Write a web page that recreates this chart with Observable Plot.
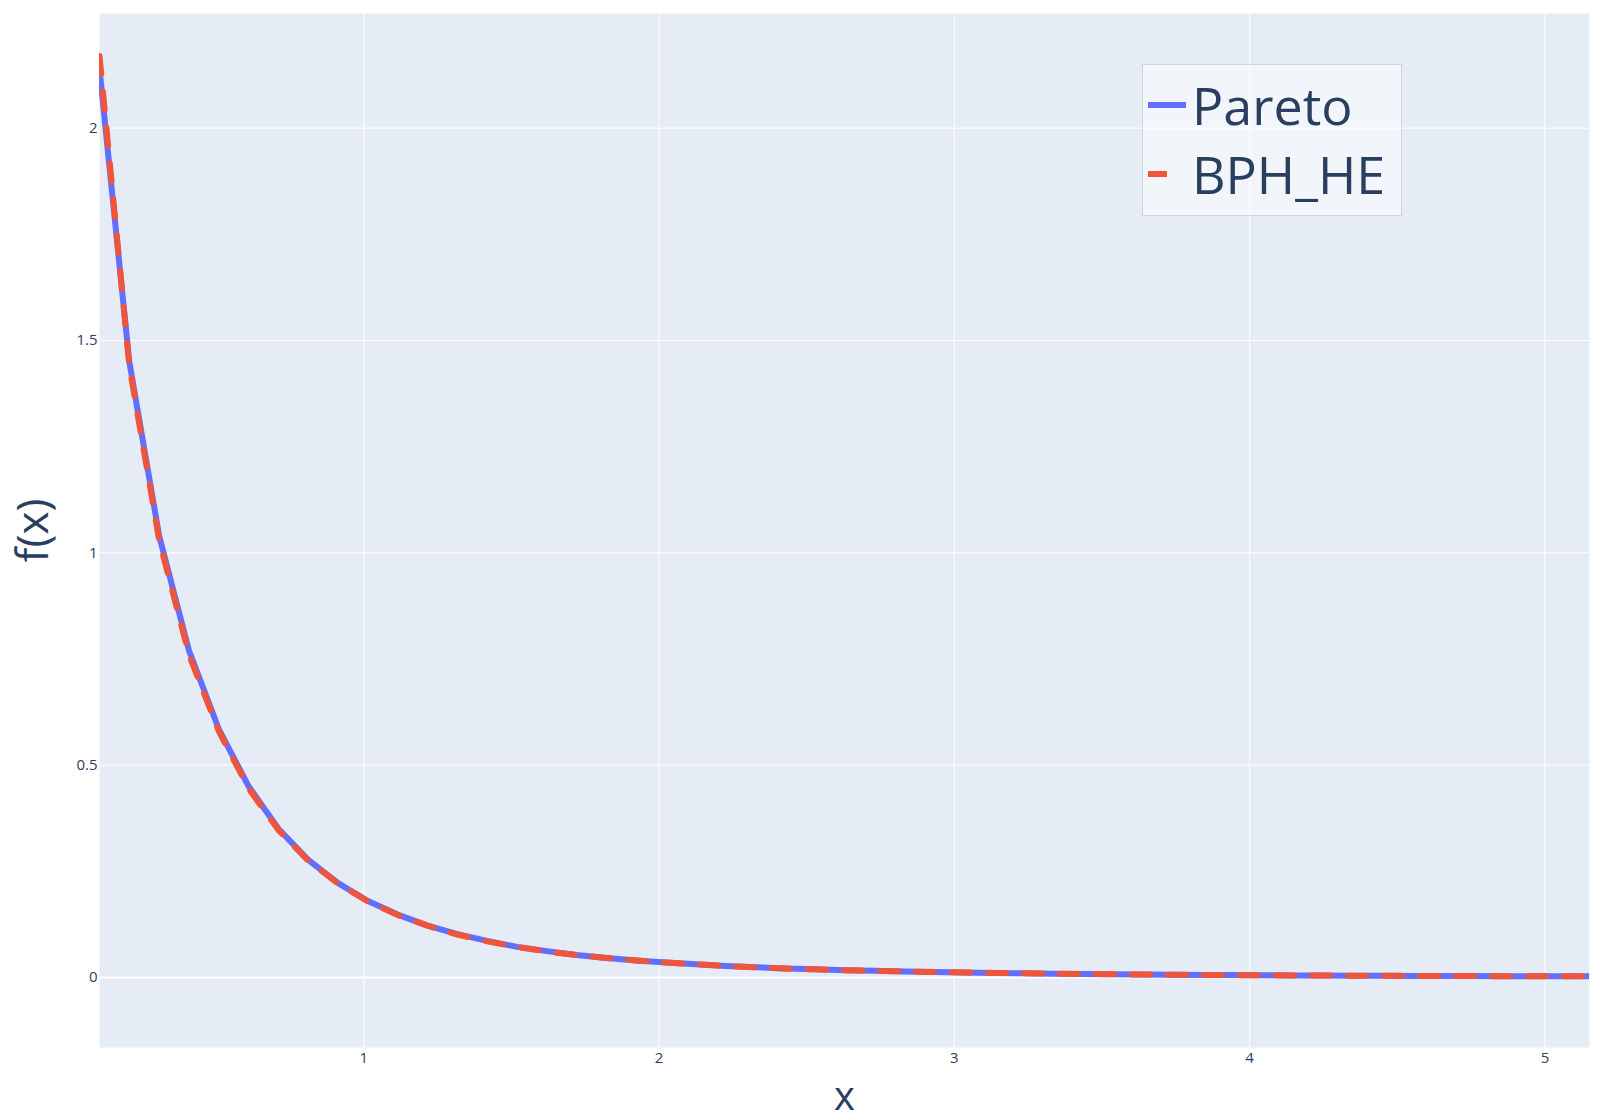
<!DOCTYPE html>
<html><head><meta charset="utf-8">
<script src="https://cdn.jsdelivr.net/npm/d3@7"></script>
<script src="https://cdn.jsdelivr.net/npm/@observablehq/plot@0.6"></script>
<style>
body{margin:0;background:#fff;font-family:"Open Sans",sans-serif;}
#wrap{position:relative;width:1612px;height:1120px;}
#legend{position:absolute;left:1142px;top:64px;}
</style></head><body>
<div id="wrap"><div id="chart"></div><div id="legend"></div></div>
<script>
const xValues = [0.105,0.206,0.307,0.408,0.509,0.610,0.711,0.812,0.913,1.014,
  1.115,1.216,1.317,1.418,1.519,1.620,1.721,1.822,1.923,2.024,
  2.125,2.226,2.327,2.428,2.529,2.630,2.731,2.832,2.933,3.034,
  3.135,3.236,3.337,3.438,3.539,3.640,3.741,3.842,3.943,4.044,
  4.145,4.246,4.347,4.448,4.549,4.650,4.751,4.852,4.953,5.054,5.151];
const paretoValues = [2.14,1.45,1.04,0.77,0.585,0.45,0.35,0.277,0.222,0.180,
  0.148,0.122,0.102,0.086,0.072,0.062,0.053,0.046,0.040,0.035,
  0.031,0.027,0.024,0.021,0.019,0.017,0.0155,0.014,0.0128,0.0116,
  0.0106,0.0097,0.0089,0.0082,0.0075,0.0069,0.0064,0.0059,0.0055,0.0051,
  0.0048,0.0044,0.0041,0.0039,0.0036,0.0034,0.0032,0.0030,0.0028,0.0027,0.0025];
const bphValues = [2.17,1.44,1.03,0.76,0.58,0.445,0.347,0.275,0.221,0.179,
  0.147,0.122,0.101,0.085,0.072,0.061,0.053,0.046,0.040,0.035,
  0.031,0.027,0.024,0.021,0.019,0.017,0.0155,0.014,0.0128,0.0116,
  0.0106,0.0097,0.0089,0.0082,0.0075,0.0069,0.0064,0.0059,0.0055,0.0051,
  0.0048,0.0044,0.0041,0.0039,0.0036,0.0034,0.0032,0.0030,0.0028,0.0027,0.0025];
const seriesNames = ["Pareto", "BPH_HE"];
const seriesColors = ["#636efa", "#EF553B"];
const xTicks = [1, 2, 3, 4, 5];
const yTicks = [0, 0.5, 1, 1.5, 2];
const xTitle = "x";
const yTitle = "f(x)";

const paretoData = xValues.map((x, i) => ({x, y: paretoValues[i]}));
const bphData = xValues.map((x, i) => ({x, y: bphValues[i]}));
const ink = "#2a3f5f";

const chart = Plot.plot({
  width: 1612, height: 1120,
  marginLeft: 99, marginTop: 13, marginRight: 23, marginBottom: 73,
  style: {fontFamily: "'Open Sans', sans-serif", color: ink, background: "white", overflow: "visible"},
  x: {domain: [0.105, 5.151]},
  y: {domain: [-0.165, 2.27]},
  marks: [
    Plot.frame({fill: "#E5ECF6", stroke: null}),
    Plot.gridX({ticks: xTicks, stroke: "white", strokeOpacity: 1, strokeWidth: 1}),
    Plot.gridY({ticks: yTicks.filter(d => d !== 0), stroke: "white", strokeOpacity: 1, strokeWidth: 1}),
    Plot.ruleY([0], {stroke: "white", strokeWidth: 2}),
    Plot.axisX({ticks: xTicks, tickSize: 0, tickPadding: 5, fontSize: 15, label: null, tickFormat: d => String(d), fill: ink}),
    Plot.axisY({ticks: yTicks, tickSize: 0, tickPadding: 2, fontSize: 15, label: null, tickFormat: d => String(d), fill: ink}),
    Plot.line(paretoData, {x: "x", y: "y", stroke: seriesColors[0], strokeWidth: 6, clip: true}),
    Plot.line(bphData, {x: "x", y: "y", stroke: seriesColors[1], strokeWidth: 6, strokeDasharray: "18,18", clip: true}),
    Plot.text([xTitle], {frameAnchor: "bottom", dy: 50, fontSize: 40, fill: ink, textAnchor: "middle", lineAnchor: "middle"}),
    Plot.text([yTitle], {frameAnchor: "left", dx: -66, rotate: -90, fontSize: 44, fill: ink, textAnchor: "middle", lineAnchor: "middle"})
  ]
});
document.getElementById("chart").appendChild(chart);

// legend (overlaid inside the plot area, top right)
const lg = d3.select("#legend").append("svg").attr("width", 260).attr("height", 152)
  .style("font-family", "'Open Sans', sans-serif");
lg.append("rect").attr("x", 0.5).attr("y", 0.5).attr("width", 259).attr("height", 151)
  .attr("fill", "rgba(255,255,255,0.5)").attr("stroke", "#d0d4dc").attr("stroke-width", 1);
seriesNames.forEach((name, i) => {
  const cy = 41 + i * 69;
  lg.append("line").attr("x1", 6).attr("x2", i === 0 ? 44 : 25).attr("y1", cy).attr("y2", cy)
    .attr("stroke", seriesColors[i]).attr("stroke-width", 6);
  lg.append("text").attr("x", 50).attr("y", 61 + i * 69).attr("font-size", 52)
    .attr("fill", ink).text(name);
});
</script>
</body></html>
